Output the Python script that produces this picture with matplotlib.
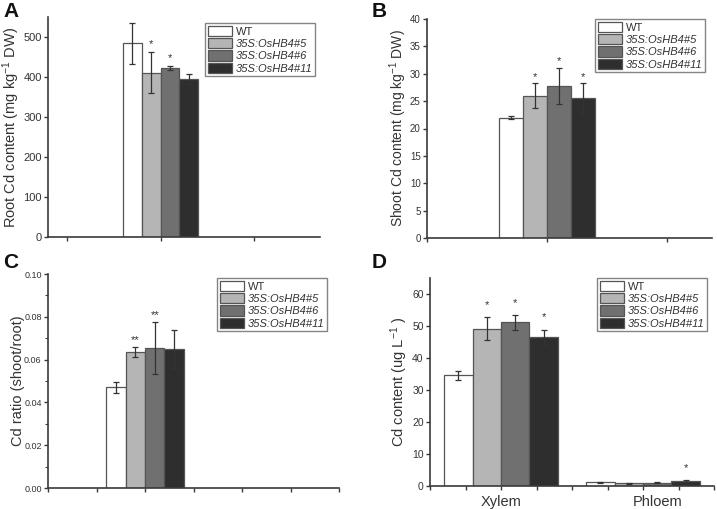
import matplotlib
matplotlib.use("Agg")
import matplotlib.pyplot as plt
import numpy as np

plt.rcParams["font.family"] = ["Liberation Sans", "DejaVu Sans"]
plt.rcParams["mathtext.default"] = "regular"

lines = ["WT", "35S:OsHB4#5", "35S:OsHB4#6", "35S:OsHB4#11"]
colors = ["#ffffff", "#b5b5b5", "#707070", "#2e2e2e"]

root_cd = [484, 411, 423, 395]
root_err = [51, 52, 5, 12]
root_sig = ["", "*", "*", ""]

shoot_cd = [22.0, 26.0, 27.8, 25.6]
shoot_err = [0.3, 2.3, 3.3, 2.7]
shoot_sig = ["", "*", "*", "*"]

ratio = [0.0471, 0.0634, 0.0654, 0.0650]
ratio_err = [0.0026, 0.0023, 0.0123, 0.0089]
ratio_sig = ["", "**", "**", ""]

tissues = ["Xylem", "Phloem"]
xylem = [34.6, 49.2, 51.2, 46.7]
xylem_err = [1.4, 3.6, 2.3, 2.2]
xylem_sig = ["", "*", "*", "*"]
phloem = [1.2, 0.9, 1.0, 1.5]
phloem_err = [0.2, 0.15, 0.1, 0.3]
phloem_sig = ["", "", "", "*"]

axis_col = "#3a3a3a"
text_col = "#333333"
W, H = 717, 509
fig = plt.figure(figsize=(W / 100, H / 100), dpi=100)


def make_ax(l, r, t, b, tick_size):
    ax = fig.add_axes([l / W, 1 - b / H, (r - l) / W, (b - t) / H])
    for s in ("top", "right"):
        ax.spines[s].set_visible(False)
    for s in ("left", "bottom"):
        ax.spines[s].set_color(axis_col)
        ax.spines[s].set_linewidth(1.2)
    ax.tick_params(colors=axis_col, labelcolor=text_col, labelsize=tick_size,
                   length=3, width=1, direction="out", pad=1.5)
    ax.tick_params(axis="x", labelbottom=False)
    return ax


def draw_group(ax, center, vals, errs, sigs, width, sig_off):
    for i, (v, e, s) in enumerate(zip(vals, errs, sigs)):
        x = center + (i - 1.5) * width
        ax.bar(x, v, width=width, color=colors[i], edgecolor="#555555",
               linewidth=0.9, zorder=2)
        ax.errorbar(x, v, yerr=e, fmt="none", ecolor="#333333",
                    elinewidth=0.9, capsize=2.5, capthick=0.9, zorder=3)
        if s:
            ax.annotate(s, (x, v + e), xytext=(0, sig_off),
                        textcoords="offset points", ha="center",
                        va="bottom", fontsize=8, color=text_col)


def legend(ax, bbox):
    handles = [plt.Rectangle((0, 0), 1, 1, facecolor=c, edgecolor="#555555",
                             linewidth=0.9) for c in colors]
    leg = ax.legend(handles, lines, loc="upper left", bbox_to_anchor=bbox,
                    bbox_transform=fig.transFigure, fontsize=8,
                    handlelength=2.2, handleheight=1.05, handletextpad=0.3,
                    labelspacing=0.12, borderpad=0.25, borderaxespad=0,
                    fancybox=False, frameon=True)
    leg.get_frame().set_edgecolor("#666666")
    leg.get_frame().set_linewidth(1.0)
    for i, t in enumerate(leg.get_texts()):
        t.set_color(text_col)
        if i > 0:
            t.set_style("italic")


def panel_letter(x, y, s):
    fig.text(x / W, 1 - y / H, s, fontsize=15, fontweight="bold",
             va="top", ha="left", color="#111111")


# A
axA = make_ax(48, 320, 17, 237, 8)
draw_group(axA, 1, root_cd, root_err, root_sig, 0.2, 2)
axA.set_xlim(-0.2, 2.7)
axA.set_xticks([0, 1, 2])
axA.set_ylim(0, 550)
axA.set_yticks(np.arange(0, 501, 100))
axA.set_ylabel("Root Cd content (mg kg$^{-1}$ DW)", fontsize=10.5, color=text_col)
axA.yaxis.set_label_coords(-0.097, 0.5)
legend(axA, (205 / W, 1 - 23 / H))
panel_letter(3, 2, "A")

# B
axB = make_ax(427, 712, 19, 238, 7)
draw_group(axB, 1, shoot_cd, shoot_err, shoot_sig, 0.2, 1)
axB.set_xlim(0, 2.375)
axB.set_xticks([0, 1, 2])
axB.set_ylim(0, 40)
axB.set_yticks(np.arange(0, 41, 5))
axB.set_ylabel("Shoot Cd content (mg kg$^{-1}$ DW)", fontsize=10, color=text_col)
axB.yaxis.set_label_coords(-0.062, 0.5)
legend(axB, (595 / W, 1 - 19 / H))
panel_letter(372, 2, "B")

# C
axC = make_ax(48, 339, 274, 488, 6.5)
draw_group(axC, 1, ratio, ratio_err, ratio_sig, 0.2, 1.5)
axC.set_xlim(0, 3)
axC.set_xticks(np.arange(0, 3.01, 0.5))
axC.set_ylim(0, 0.10)
axC.set_yticks(np.arange(0, 0.101, 0.02))
axC.set_yticks(np.arange(0.01, 0.1, 0.02), minor=True)
axC.tick_params(which="minor", length=2, width=0.8, colors=axis_col)
axC.yaxis.set_major_formatter(matplotlib.ticker.FormatStrFormatter("%.2f"))
axC.set_ylabel("Cd ratio (shoot/root)", fontsize=10.5, color=text_col)
axC.yaxis.set_label_coords(-0.08, 0.5)
legend(axC, (217 / W, 1 - 278 / H))
panel_letter(3, 253, "C")

# D
axD = make_ax(430, 714, 278, 486, 7.5)
draw_group(axD, 1, xylem, xylem_err, xylem_sig, 0.2, 5)
draw_group(axD, 2, phloem, phloem_err, phloem_sig, 0.2, 5)
axD.set_xlim(0.5, 2.5)
axD.set_xticks(np.arange(0.5, 2.51, 0.25))
axD.set_ylim(0, 65)
axD.set_yticks(np.arange(0, 61, 10))
axD.set_ylabel("Cd content (ug L$^{-1}$ )", fontsize=10.5, color=text_col)
axD.yaxis.set_label_coords(-0.07, 0.5)
for xpos, name in zip([1.0, 2.1], tissues):
    axD.text(xpos, -0.045, name, transform=axD.get_xaxis_transform(),
             ha="center", va="top", fontsize=10.5, color=text_col)
legend(axD, (597 / W, 1 - 278 / H))
panel_letter(372, 253, "D")

fig.savefig("out.png", dpi=100)
